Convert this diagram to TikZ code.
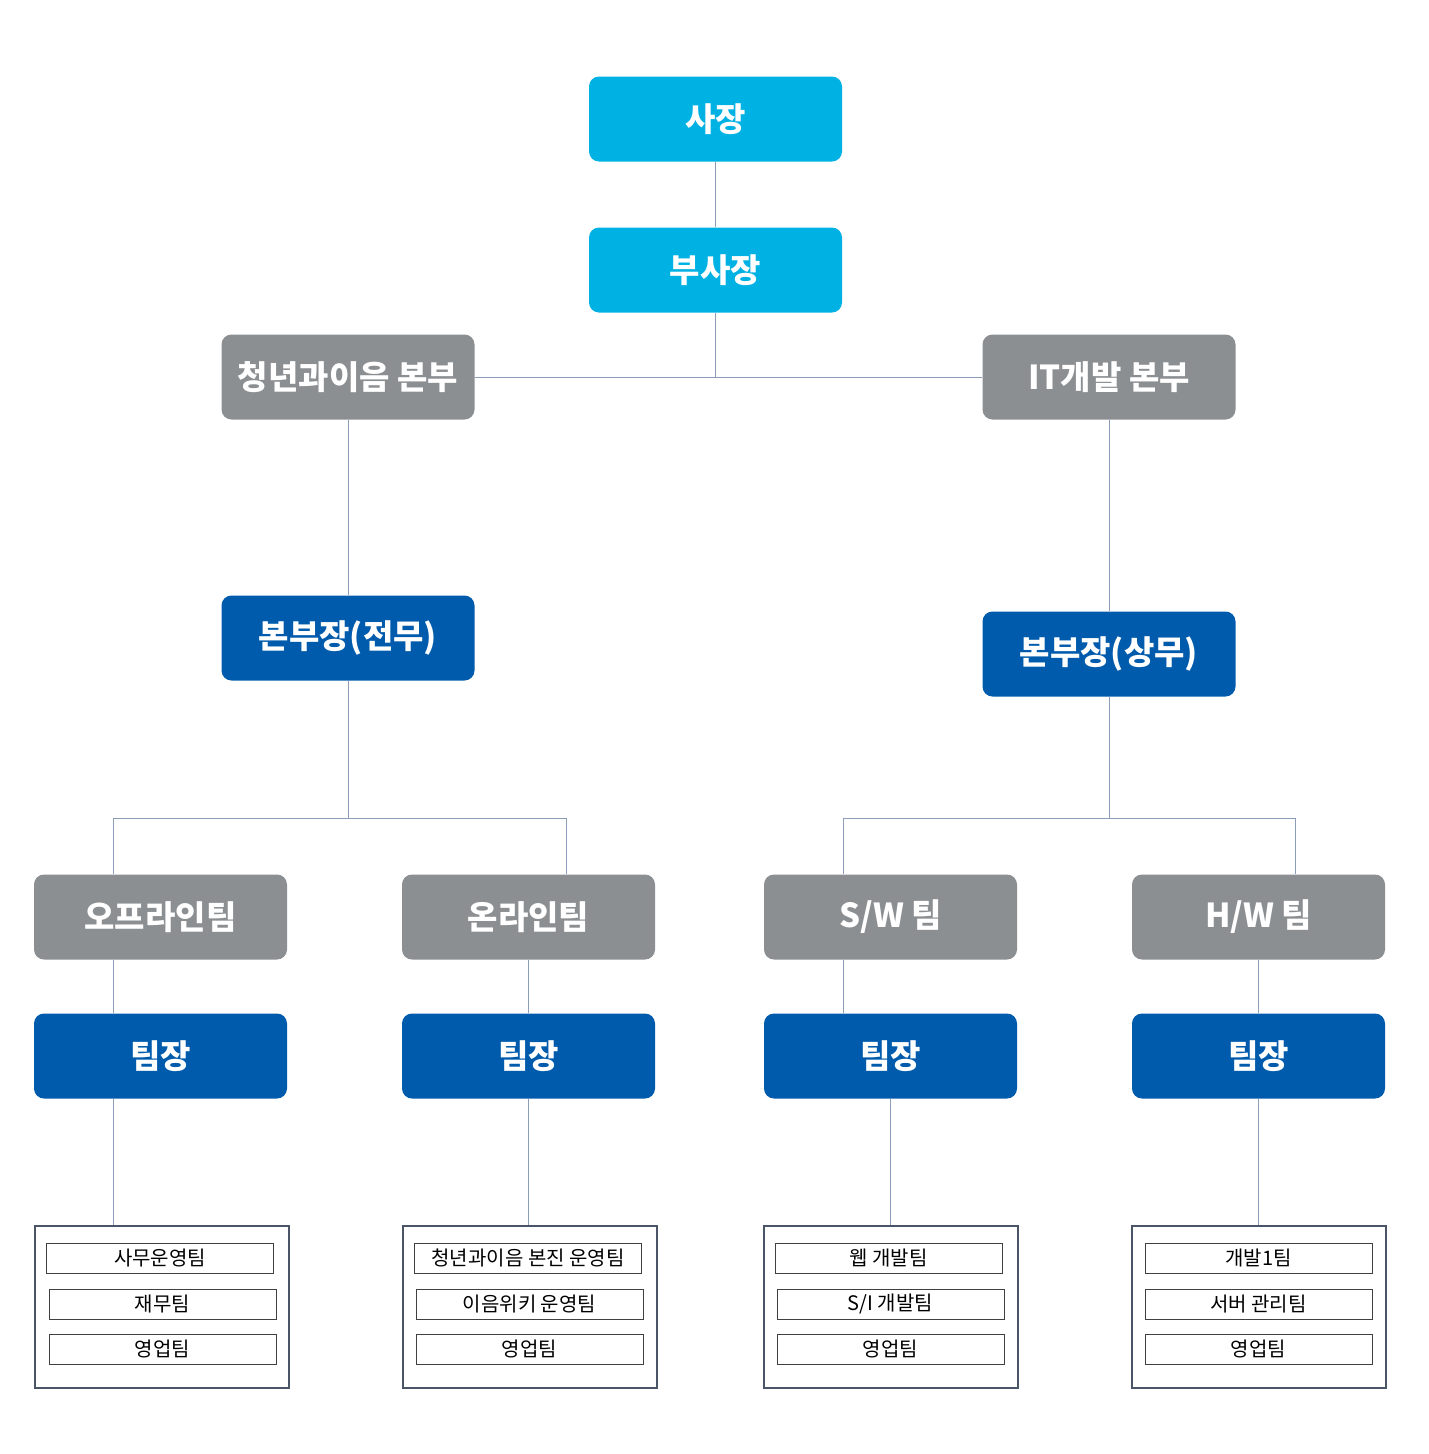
\documentclass[tikz,border=0pt]{standalone}
\usepackage{fontspec}
\setmainfont{Noto Sans CJK KR}
\usetikzlibrary{calc}
\definecolor{topc}{HTML}{00B2E3}
\definecolor{grayc}{HTML}{8C8F92}
\definecolor{bluec}{HTML}{005BAC}
\definecolor{linec}{HTML}{8C9DBA}
\definecolor{framec}{HTML}{4A5568}
\begin{document}
\begin{tikzpicture}[x=1pt,y=-1pt,
  box/.style={rounded corners=10pt, minimum width=253pt, minimum height=85pt, inner sep=0pt, text=white, font=\fontsize{33}{36}\selectfont\bfseries},
  topbox/.style={box, fill=topc},
  graybox/.style={box, fill=grayc},
  bluebox/.style={box, fill=bluec},
  outerbox/.style={draw=framec, line width=1.2pt, minimum width=254pt, minimum height=162pt, inner sep=0pt},
  innerbox/.style={draw=black!75, line width=1pt, minimum width=227pt, minimum height=30pt, inner sep=0pt, font=\fontsize{20}{22}\selectfont},
  conn/.style={draw=linec, line width=1pt}]
\useasboundingbox (0,0) rectangle (1428,1454);
\fill[white] (0,0) rectangle (1428,1454);

% top
\node[topbox] (ceo) at (715.5,119) {사장};
\node[topbox] (vp) at (715.5,270) {부사장};
\node[graybox] (hq1) at (348,377) {청년과이음 본부};
\node[graybox] (hq2) at (1109,377) {IT개발 본부};
\node[bluebox] (dir1) at (348,638) {본부장(전무)};
\node[bluebox] (dir2) at (1109,654) {본부장(상무)};

% teams
\node[graybox] (t1) at (160.5,917) {오프라인팀};
\node[graybox] (t2) at (528.5,917) {온라인팀};
\node[graybox] (t3) at (890.5,917) {S/W 팀};
\node[graybox] (t4) at (1258.5,917) {H/W 팀};

\node[bluebox] (l1) at (160.5,1056) {팀장};
\node[bluebox] (l2) at (528.5,1056) {팀장};
\node[bluebox] (l3) at (890.5,1056) {팀장};
\node[bluebox] (l4) at (1258.5,1056) {팀장};

% bottom frames
\node[outerbox] (b1) at (162,1307) {};
\node[outerbox] (b2) at (530,1307) {};
\node[outerbox] (b3) at (891,1307) {};
\node[outerbox] (b4) at (1259,1307) {};

\node[innerbox] (b1a) at (160,1258) {사무운영팀};
\node[innerbox] (b1b) at (162.5,1304) {재무팀};
\node[innerbox] (b1c) at (162.5,1349) {영업팀};
\node[innerbox] (b2a) at (528,1258) {청년과이음 본진 운영팀};
\node[innerbox] (b2b) at (529.5,1304) {이음위키 운영팀};
\node[innerbox] (b2c) at (529.5,1349) {영업팀};
\node[innerbox] (b3a) at (888.5,1258) {웹 개발팀};
\node[innerbox] (b3b) at (890.5,1304) {S/I 개발팀};
\node[innerbox] (b3c) at (890.5,1349) {영업팀};
\node[innerbox] (b4a) at (1258.5,1258) {개발1팀};
\node[innerbox] (b4b) at (1258.5,1304) {서버 관리팀};
\node[innerbox] (b4c) at (1258.5,1349) {영업팀};

% connector helper coordinates
\coordinate (j0) at (715.5,377);
\coordinate (x1) at (113,0);
\coordinate (x2) at (566,0);
\coordinate (x3) at (843,0);
\coordinate (x4) at (1295,0);
\coordinate (bus1) at (348,818);
\coordinate (bus2) at (1109,818);

% connectors
\draw[conn] (ceo.south) -- (vp.north);
\draw[conn] (vp.south) -- (j0);
\draw[conn] (hq1.east) -- (hq2.west);
\draw[conn] (hq1.south) -- (dir1.north);
\draw[conn] (hq2.south) -- (dir2.north);

\draw[conn] (dir1.south) -- (bus1);
\draw[conn] (x1 |- t1.north) -- (x1 |- bus1) -- (x2 |- bus1) -- (x2 |- t2.north);
\draw[conn] (dir2.south) -- (bus2);
\draw[conn] (x3 |- t3.north) -- (x3 |- bus2) -- (x4 |- bus2) -- (x4 |- t4.north);

\draw[conn] (x1 |- t1.south) -- (x1 |- l1.north);
\draw[conn] (t2.south) -- (l2.north);
\draw[conn] (x3 |- t3.south) -- (x3 |- l3.north);
\draw[conn] (t4.south) -- (l4.north);

\draw[conn] (x1 |- l1.south) -- (x1 |- b1.north);
\draw[conn] (l2.south) -- (l2.south |- b2.north);
\draw[conn] (l3.south) -- (l3.south |- b3.north);
\draw[conn] (l4.south) -- (l4.south |- b4.north);
\end{tikzpicture}
\end{document}
